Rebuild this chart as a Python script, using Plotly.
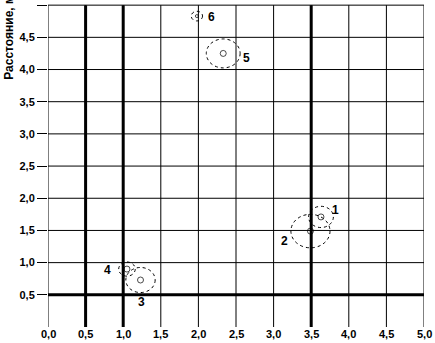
import plotly.graph_objects as go

# Data
labels = ["1", "2", "3", "4", "5", "6"]
x_vals = [3.63, 3.49, 1.23, 1.05, 2.33, 1.98]
y_vals = [1.71, 1.49, 0.73, 0.90, 4.25, 4.83]
radii = [0.165, 0.26, 0.195, 0.11, 0.225, 0.075]
x_ticks = [0.0, 0.5, 1.0, 1.5, 2.0, 2.5, 3.0, 3.5, 4.0, 4.5, 5.0]
y_ticks = [0.5, 1.0, 1.5, 2.0, 2.5, 3.0, 3.5, 4.0, 4.5, 5.0]
thick_x = [0.5, 1.0, 3.5]
thick_y = [0.5]
y_title = "Расстояние, м"

# label offsets (pixels) - style
label_dx = [15, -26, 1, -19, 23, 15]
label_dy = [7, -10, -22, -1, -5, -1]
marker_sizes = [6, 6, 6, 6, 6, 3]

font = dict(family="Liberation Sans, Arial, sans-serif", size=11, color="black", weight="bold")
num_font = dict(family="Liberation Sans, Arial, sans-serif", size=12, color="black", weight="bold")
title_font = dict(family="Liberation Sans, Arial, sans-serif", size=12, color="black", weight="bold")

fig = go.Figure()
fig.add_trace(go.Scatter(
    x=x_vals, y=y_vals, mode="markers",
    marker=dict(symbol="circle-open", size=marker_sizes, color="black", line=dict(width=1, color="black")),
    hoverinfo="skip", showlegend=False, cliponaxis=False,
))

shapes = []
# grid lines drawn from tick lists
for xv in x_ticks:
    shapes.append(dict(type="line", xref="x", yref="y", x0=xv, x1=xv, y0=0, y1=max(y_ticks),
                       line=dict(color="black", width=1), layer="above"))
for yv in y_ticks:
    shapes.append(dict(type="line", xref="x", yref="y", x0=0, x1=max(x_ticks), y0=yv, y1=yv,
                       line=dict(color="black", width=1), layer="above"))
for xv in thick_x:
    shapes.append(dict(type="line", xref="x", yref="y", x0=xv, x1=xv, y0=0, y1=max(y_ticks),
                       line=dict(color="black", width=3), layer="above"))
for yv in thick_y:
    shapes.append(dict(type="line", xref="x", yref="y", x0=0, x1=max(x_ticks), y0=yv, y1=yv,
                       line=dict(color="black", width=3), layer="above"))
for xv, yv, r in zip(x_vals, y_vals, radii):
    shapes.append(dict(type="circle", xref="x", yref="y", x0=xv - r, x1=xv + r, y0=yv - r, y1=yv + r,
                       line=dict(color="black", width=1, dash="dot"), layer="above"))

annotations = []
for lab, xv, yv, dx, dy in zip(labels, x_vals, y_vals, label_dx, label_dy):
    annotations.append(dict(x=xv, y=yv, xref="x", yref="y", text=lab, showarrow=False,
                            xshift=dx, yshift=dy, font=num_font))
for xv in x_ticks:
    annotations.append(dict(x=xv, y=0, xref="x", yref="paper", text=f"{xv:.1f}".replace(".", ","),
                            showarrow=False, xanchor="center", yanchor="top", yshift=1, font=font))
annotations.append(dict(x=-0.106, y=0.885, xref="paper", yref="paper", text=y_title, textangle=-90,
                        showarrow=False, xanchor="center", yanchor="middle", font=title_font))

fig.update_layout(
    width=435, height=343,
    margin=dict(l=48, r=11, t=0, b=16, autoexpand=False),
    paper_bgcolor="white", plot_bgcolor="white",
    separators=", ",
    shapes=shapes, annotations=annotations,
    showlegend=False,
)
fig.update_xaxes(
    range=[0, 5], showticklabels=False, showgrid=False, zeroline=False,
    showline=False, ticks="", automargin=False,
)
fig.update_yaxes(
    range=[0, 5.08], tickvals=y_ticks, tickformat=".1f", tickfont=font,
    showgrid=False, zeroline=False, automargin=False,
    showline=False,
    ticks="outside", ticklen=10, tickcolor="black", tickwidth=1,
)

fig.write_html("out.html", config={"displayModeBar": False, "staticPlot": True},
               post_script="document.body.style.margin='0';document.body.style.overflow='hidden';")
